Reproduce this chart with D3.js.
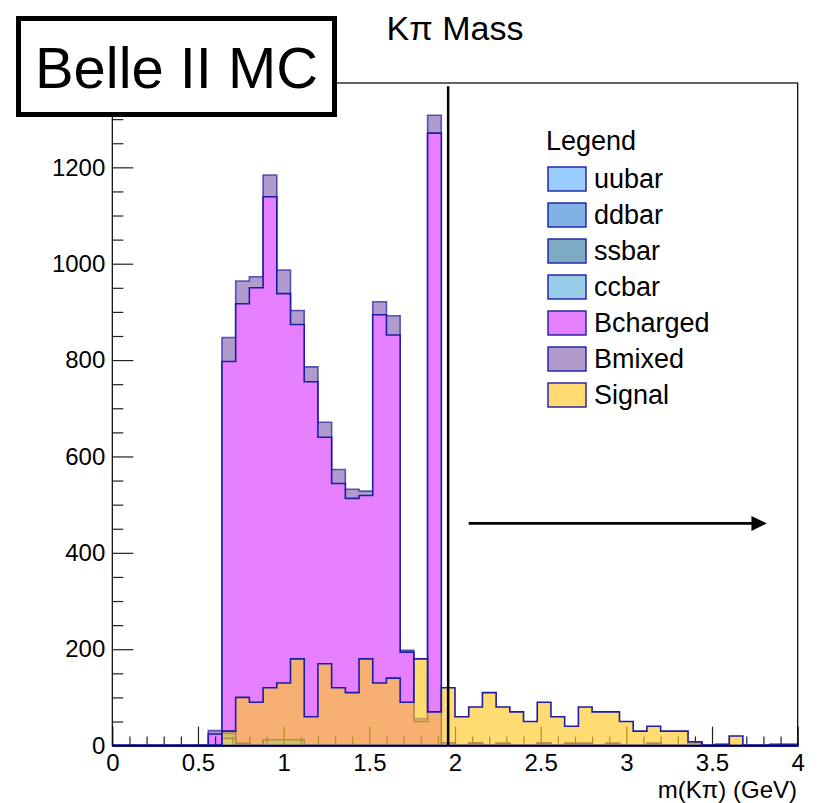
<!DOCTYPE html>
<html>
<head>
<meta charset="utf-8">
<script src="https://cdn.jsdelivr.net/npm/d3@7"></script>
<style>
body { margin: 0; background: #fff; }
text { font-family: "Liberation Sans", Arial, Helvetica, sans-serif; }
</style>
</head>
<body>
<div id="chart"></div>
<script>
const width = 826;
const height = 803;

// histogram binning: 50 bins of 0.08 GeV from 0 to 4
const binWidth = 0.08;
const nBins = 50;
const binLow = d3.range(nBins).map(i => +(i * binWidth).toFixed(2));

// bin contents (index = bin number)
const uubar = [
  0, 0, 0, 0, 0, 0, 0, 0, 15, 4,
  0, 0, 0, 0, 0, 0, 0, 0, 0, 0,
  0, 0, 0, 0, 0, 0, 0, 0, 0, 0,
  0, 0, 0, 0, 0, 0, 0, 0, 0, 0,
  0, 0, 0, 0, 0, 0, 0, 0, 0, 0
];
const ddbar = [
  0, 0, 0, 0, 0, 0, 0, 0, 10, 0,
  0, 12, 12, 12, 0, 0, 0, 0, 0, 0,
  0, 0, 0, 0, 0, 0, 0, 0, 0, 0,
  0, 0, 0, 0, 0, 0, 0, 0, 0, 0,
  0, 0, 0, 0, 0, 0, 0, 0, 0, 0
];
const ssbar = [
  0, 0, 0, 0, 0, 0, 0, 0, 0, 0,
  0, 0, 0, 0, 0, 0, 0, 0, 0, 0,
  0, 0, 0, 0, 6, 0, 5, 0, 4, 0,
  0, 5, 0, 4, 4, 0, 4, 0, 0, 4,
  0, 0, 6, 0, 0, 0, 0, 0, 0, 0
];
const ccbar = [
  0, 0, 0, 0, 0, 0, 0, 0, 4, 0,
  0, 0, 0, 0, 0, 0, 0, 0, 0, 0,
  0, 0, 0, 0, 0, 0, 0, 0, 0, 0,
  0, 0, 0, 0, 0, 0, 0, 0, 0, 0,
  0, 0, 0, 0, 2, 0, 0, 0, 2, 2
];
const Bcharged = [
  0, 0, 0, 0, 0, 0, 0, 24, 768, 913,
  950, 1127, 926, 862, 755, 640, 544, 513, 519, 894,
  852, 194, 50, 1271, 0, 0, 0, 0, 0, 0,
  0, 0, 0, 0, 0, 0, 0, 0, 0, 0,
  0, 0, 0, 0, 0, 0, 0, 0, 0, 0
];
const Bmixed = [
  0, 0, 0, 0, 0, 0, 0, 7, 50, 47,
  23, 45, 49, 29, 31, 31, 29, 19, 9, 27,
  40, 4, 6, 37, 0, 0, 0, 0, 0, 0,
  0, 0, 0, 0, 0, 0, 0, 0, 0, 0,
  0, 0, 0, 0, 0, 0, 0, 0, 0, 0
];
const Signal = [
  0, 0, 0, 0, 0, 0, 0, 0, 30, 100,
  90, 120, 130, 180, 60, 170, 120, 110, 180, 130,
  140, 90, 180, 70, 120, 60, 80, 110, 80, 70,
  50, 90, 60, 40, 80, 70, 70, 50, 30, 40,
  30, 30, 8, 0, 0, 20, 0, 0, 0, 0
];

const stackKeys = ["uubar", "ddbar", "ssbar", "ccbar", "Bcharged", "Bmixed"];
const seriesByKey = { uubar, ddbar, ssbar, ccbar, Bcharged, Bmixed };
const legendKeys = ["uubar", "ddbar", "ssbar", "ccbar", "Bcharged", "Bmixed", "Signal"];

const xTicks = [0, 0.5, 1, 1.5, 2, 2.5, 3, 3.5, 4];
const yTicks = [0, 200, 400, 600, 800, 1000, 1200];

const cutValue = 1.96;

const colors = {
  uubar: "#99ccff",
  ddbar: "#80b2e6",
  ssbar: "#7eabc4",
  ccbar: "#99cce6",
  Bcharged: "#e680ff",
  Bmixed: "#b09bcc",
  Signal: "#ffc828"
};
const lineBlue = "#1c1ca6";

const svg = d3.select("#chart").append("svg")
  .attr("width", width)
  .attr("height", height);

const x = d3.scaleLinear().domain([0, 4]).range([112.3, 797.7]);
const y = d3.scaleLinear().domain([0, 1375]).range([745.6, 83]);

// stacked cumulative contents
const table = binLow.map((x0, i) => {
  const row = { x0 };
  stackKeys.forEach(k => row[k] = seriesByKey[k][i]);
  return row;
});
const stacked = d3.stack().keys(stackKeys)(table);

function stepPoints(vals) {
  const pts = [[0, 0]];
  vals.forEach((v, i) => pts.push([binLow[i], v]));
  pts.push([4, vals[nBins - 1]]);
  pts.push([4, 0]);
  return pts;
}

const step = d3.line()
  .x(d => x(d[0]))
  .y(d => y(d[1]))
  .curve(d3.curveStepAfter);

// draw the stack like ROOT: top cumulative first, lower ones over it
const stackG = svg.append("g");
for (let k = stacked.length - 1; k >= 0; k--) {
  const key = stacked[k].key;
  stackG.append("path")
    .attr("d", step(stepPoints(stacked[k].map(d => d[1]))) + "Z")
    .attr("fill", colors[key])
    .attr("stroke", lineBlue)
    .attr("stroke-opacity", key === "Bmixed" ? 0.7 : 1)
    .attr("stroke-width", 1.6);
}

// axes (ticks drawn inward)
const xMinor = d3.range(0, 4.001, 0.1).filter(v => Math.abs(v * 2 - Math.round(v * 2)) > 1e-6);
svg.append("g")
  .attr("transform", `translate(0,${y(0)})`)
  .call(d3.axisBottom(x).tickValues(xMinor).tickSize(-9).tickFormat(""))
  .call(g => g.select(".domain").remove());

svg.append("g")
  .attr("transform", `translate(0,${y(0)})`)
  .call(d3.axisBottom(x).tickValues(xTicks).tickSize(-19).tickPadding(8).tickFormat(d3.format("~g")))
  .call(g => g.select(".domain").remove())
  .call(g => g.selectAll("text")
    .attr("font-family", "Liberation Sans, Arial, sans-serif")
    .attr("font-size", 24)
    .attr("fill", "#000"));

const yMinor = d3.range(0, 1376, 50).filter(v => v % 200 !== 0);
svg.append("g")
  .attr("transform", `translate(${x(0)},0)`)
  .call(d3.axisLeft(y).tickValues(yMinor).tickSize(-11).tickFormat(""))
  .call(g => g.select(".domain").remove());

svg.append("g")
  .attr("transform", `translate(${x(0)},0)`)
  .call(d3.axisLeft(y).tickValues(yTicks).tickSize(-21).tickPadding(7).tickFormat(d3.format("d")))
  .call(g => g.select(".domain").remove())
  .call(g => g.selectAll("text")
    .attr("font-family", "Liberation Sans, Arial, sans-serif")
    .attr("font-size", 24)
    .attr("fill", "#000"));

svg.selectAll(".tick line").attr("stroke", "#222").attr("stroke-width", 1.2);

// signal overlaid, transparent
svg.append("path")
  .attr("d", step(stepPoints(Signal)) + "Z")
  .attr("fill", colors.Signal)
  .attr("fill-opacity", 0.66)
  .attr("stroke", lineBlue)
  .attr("stroke-width", 1.6);

// frame
svg.append("rect")
  .attr("x", x(0))
  .attr("y", y(1375))
  .attr("width", x(4) - x(0))
  .attr("height", y(0) - y(1375))
  .attr("fill", "none")
  .attr("stroke", "#000")
  .attr("stroke-width", 1.2);

// cut line and arrow
svg.append("line")
  .attr("x1", x(cutValue)).attr("x2", x(cutValue))
  .attr("y1", y(0)).attr("y2", y(1368))
  .attr("stroke", "#000")
  .attr("stroke-width", 2.5);

const arrowY = y(461);
svg.append("line")
  .attr("x1", x(2.08)).attr("x2", x(3.74))
  .attr("y1", arrowY).attr("y2", arrowY)
  .attr("stroke", "#000")
  .attr("stroke-width", 2.8);
svg.append("path")
  .attr("d", `M${x(3.73)},${arrowY - 7.5}L${x(3.82)},${arrowY}L${x(3.73)},${arrowY + 7.5}Z`)
  .attr("fill", "#000");

// legend
svg.append("text")
  .attr("x", 546)
  .attr("y", 150)
  .attr("font-size", 27)
  .text("Legend");

const legend = svg.append("g")
  .selectAll("g")
  .data(legendKeys)
  .enter().append("g")
  .attr("transform", (d, i) => `translate(548,${167 + i * 36})`);

legend.append("rect")
  .attr("width", 38)
  .attr("height", 24)
  .attr("fill", d => colors[d])
  .attr("fill-opacity", d => d === "Signal" ? 0.66 : 1)
  .attr("stroke", lineBlue)
  .attr("stroke-width", 1.4);

legend.append("text")
  .attr("x", 46)
  .attr("y", 21)
  .attr("font-size", 27)
  .text(d => d);

// title and axis title
svg.append("text")
  .attr("x", 455)
  .attr("y", 40)
  .attr("text-anchor", "middle")
  .attr("font-size", 34)
  .text("Kπ Mass");

svg.append("text")
  .attr("x", 797)
  .attr("y", 797.5)
  .attr("text-anchor", "end")
  .attr("font-size", 24)
  .text("m(Kπ) (GeV)");

// Belle II MC label box
svg.append("rect")
  .attr("x", 18.5)
  .attr("y", 18.5)
  .attr("width", 316)
  .attr("height", 96)
  .attr("fill", "#fff")
  .attr("stroke", "#000")
  .attr("stroke-width", 5);

svg.append("text")
  .attr("x", 35)
  .attr("y", 88)
  .attr("font-family", "Lato, Roboto, sans-serif")
  .attr("font-weight", 300)
  .attr("font-size", 58)
  .attr("textLength", 283)
  .attr("lengthAdjust", "spacingAndGlyphs")
  .text("Belle II MC");
</script>
</body>
</html>
